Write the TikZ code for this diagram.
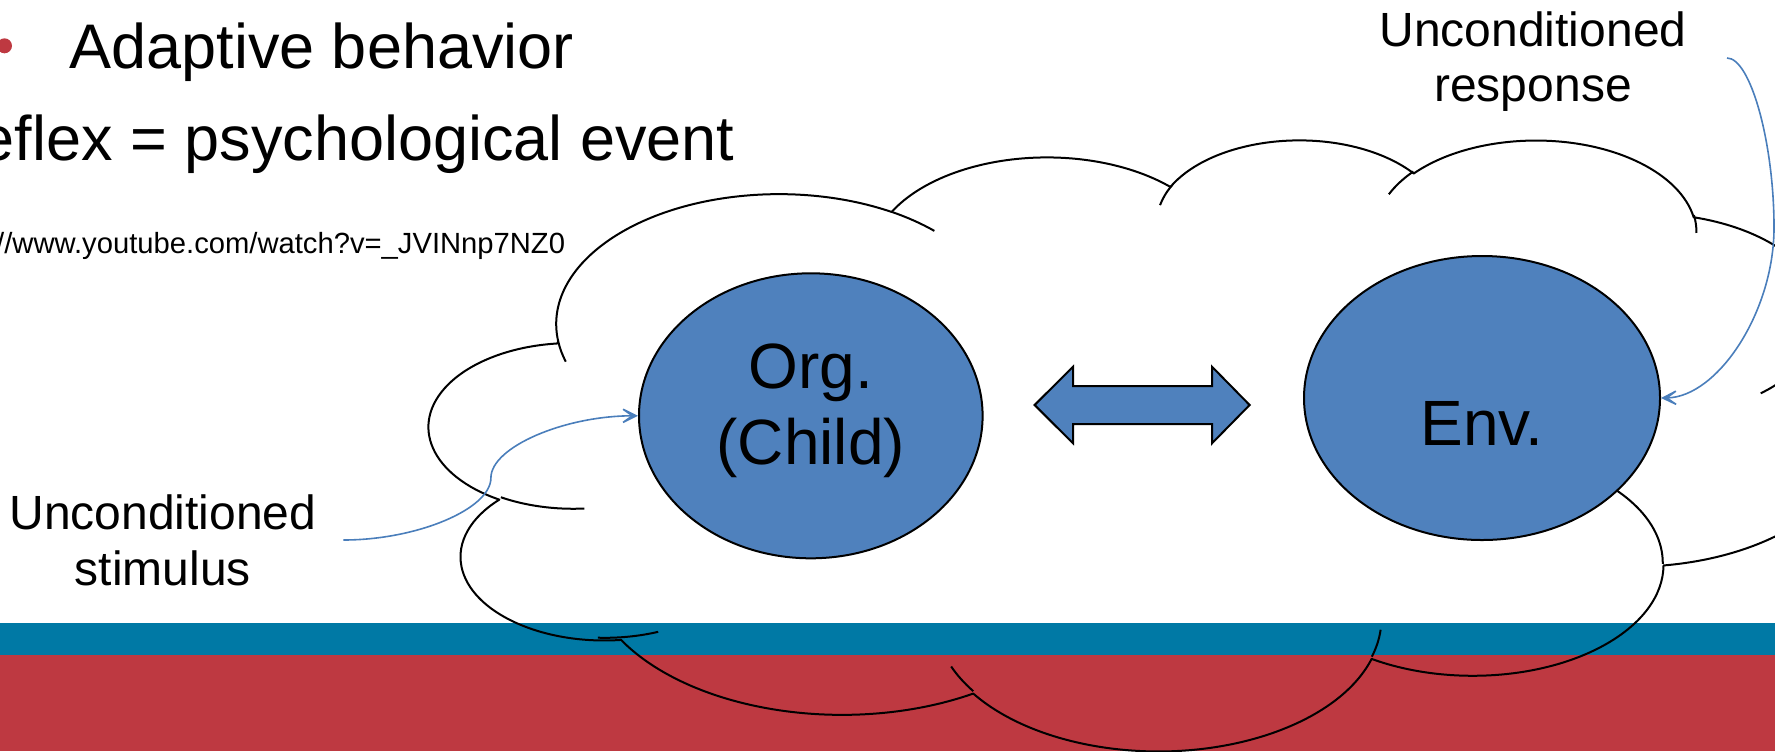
\documentclass[tikz,border=0pt]{standalone}
\usepackage{fontspec}
\setmainfont{Liberation Sans}
\usetikzlibrary{arrows.meta,shapes.geometric}
\definecolor{barblue}{RGB}{0,121,165}
\definecolor{barred}{RGB}{190,57,65}
\definecolor{shapeblue}{RGB}{79,129,189}
\definecolor{connblue}{RGB}{74,126,187}
% one lobe of the cloud: x radius, y radius, start (visual) angle, sweep
\newcommand{\cloudarc}[4]{arc[x radius=#1,y radius=#2,start angle={pa(#1,#2,#3)},delta angle={mod(pa(#1,#2,(#3)+(#4))-pa(#1,#2,#3)+720,360)}]}
\begin{document}
\begin{tikzpicture}[x=0.5pt,y=-0.5pt,
  declare function={pa(\cw,\chh,\cang)=atan2(\cw*sin(\cang),\chh*cos(\cang));},
  cloudline/.style={draw=black,line width=1pt,line join=round},
  bubble/.style={ellipse,draw=black,fill=shapeblue,line width=1pt,inner sep=0pt},
  bigtxt/.style={inner sep=0pt,font=\fontsize{32}{37}\selectfont},
  titletxt/.style={inner sep=0pt,font=\fontsize{31.5}{36}\selectfont},
  labeltxt/.style={inner sep=0pt,font=\fontsize{24}{28}\selectfont},
  urltxt/.style={inner sep=0pt,font=\fontsize{14.6}{17}\selectfont},
  conn/.style={draw=connblue,line width=0.8pt,-{Stealth[length=12pt,width=12pt,inset=8.5pt]}},
  dblarrow/.style={draw=black,fill=shapeblue,line width=1pt,line join=miter}
]
\useasboundingbox (0,0) rectangle (1775,751);
\clip (0,0) rectangle (1775,751);

% footer bars
\fill[barblue] (0,623) rectangle (1775,655);
\fill[barred] (0,655) rectangle (1775,751);

% cloud (outline only)
\begin{scope}[shift={(429.6,138.4)},x=0.16495pt,y=-0.07069pt]
\draw[cloudline] (390,1437)
  \cloudarc{675.3}{919.0}{-190.48748}{123.78053}
  \cloudarc{533.3}{726.7}{-144.10238}{89.94523}
  \cloudarc{436.5}{594.5}{-145.80792}{99.72302}
  \cloudarc{485.7}{659.5}{-130.98607}{117.24173}
  \cloudarc{533.3}{727.3}{-78.70888}{109.02692}
  \cloudarc{677.5}{922.0}{-46.26725}{130.269}
  \cloudarc{578.5}{786.7}{0.62502}{114.03333}
  \cloudarc{675.2}{921.5}{22.4516}{115.17255}
  \cloudarc{772.0}{1054.3}{66.24263}{75.71102}
  \cloudarc{436.0}{591.8}{-274.94208}{146.73557}
  \cloudarc{434.5}{594.5}{-246.8285}{152.51885}
  -- cycle;
\draw[cloudline]
  (469.3,2617.7) \cloudarc{434.5}{594.5}{86.742}{26.4295}
  (692.8,3489.9) \cloudarc{436.0}{591.8}{73.61047}{18.4148}
  (1647.8,3909.0) \cloudarc{675.2}{921.5}{137.62415}{14.0811}
  (2882.7,3475.1) \cloudarc{675.2}{921.5}{6.45327}{15.99835}
  (3412.9,2295.4) \cloudarc{578.5}{786.7}{-70.29235}{70.91737}
  (4179.8,1535.4) \cloudarc{533.3}{727.3}{30.31803}{27.7515}
  (3832.4,542.6) \cloudarc{485.7}{659.5}{-13.74433}{14.8589}
  (2907.8,395.2) \cloudarc{485.7}{659.5}{-149.18145}{18.19537}
  (2214.1,472.0) \cloudarc{436.5}{594.5}{-163.49427}{17.68635}
  (1400.0,519.2) \cloudarc{675.3}{919.0}{-66.70695}{12.31935}
  (412.7,1578.9) \cloudarc{675.3}{919.0}{157.65435}{11.85817};
\end{scope}

% organism and environment
\node[bubble,minimum width=171.8pt,minimum height=142.5pt] (org) at (810.8,415.8) {};
\node[bubble,minimum width=178pt,minimum height=142pt] (env) at (1482,398) {};
\node[bigtxt,anchor=base] (orgA) at (810.8,388.3) {Org.};
\node[bigtxt,anchor=base] (orgB) at (810.8,464) {(Child)};
\node[bigtxt,anchor=base] (envA) at (1482,445) {Env.};

% double arrow between them
\draw[dblarrow] (1034.6,405) -- (1073,366.7) -- (1073,386) -- (1212,386) -- (1212,366.7)
  -- (1249.6,405) -- (1212,443.3) -- (1212,424) -- (1073,424) -- (1073,443.3) -- cycle;

% slide text
\fill[barred] (4.5,45.8) circle[radius=7.5];
\node[titletxt,anchor=base west] (adapt) at (69,68.3) {Adaptive behavior};
\node[titletxt,anchor=base east] (reflex) at (735,160) {Reflex = psychological event};
\node[urltxt,anchor=base east] (url) at (565.5,253) {http://www.youtube.com/watch?v=\_JVINnp7NZ0};

% labels
\node[labeltxt,anchor=base] (usA) at (163,529.3) {Unconditioned};
\node[labeltxt,anchor=base] (usB) at (163,585) {stimulus};
\node[labeltxt,anchor=base] (urA) at (1533,46.7) {Unconditioned};
\node[labeltxt,anchor=base] (urB) at (1533,101.7) {response};

% connectors
\coordinate (usStart) at (343.3,540);
\coordinate (urStart) at (1727,58);
\draw[conn] (usStart) .. controls (417,540) and (490.9,509) .. (490.9,477.9)
  .. controls (490.9,446.9) and (564.9,415.8) .. (org.west);
\draw[conn] (urStart) .. controls (1750.5,58) and (1774,142.75) .. (1774,227.5)
  .. controls (1774,312.25) and (1717.5,397) .. (env.east);
\end{tikzpicture}
\end{document}
